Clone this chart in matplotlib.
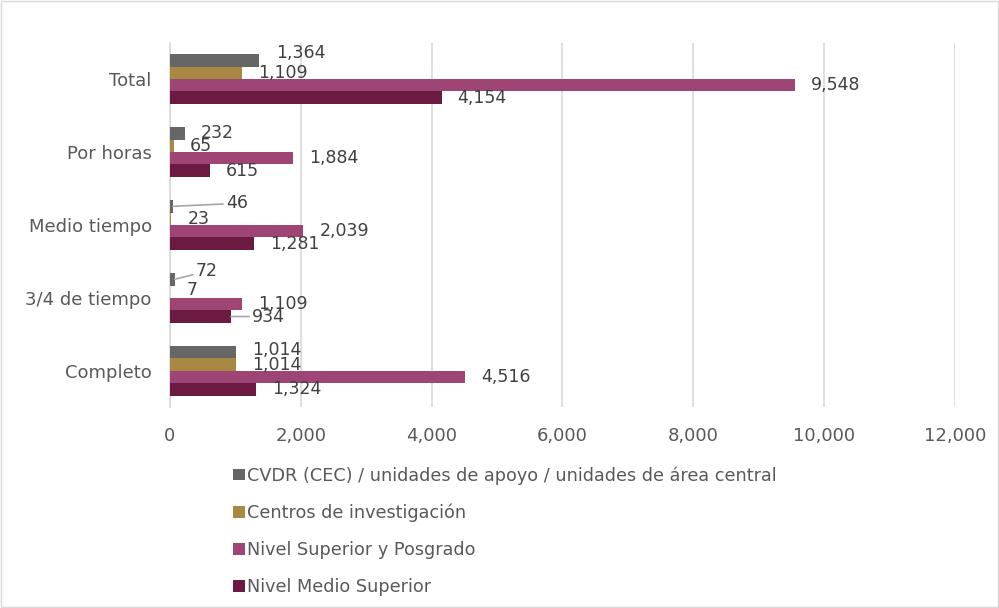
import numpy as np
import matplotlib.pyplot as plt
from matplotlib.patches import Rectangle

plt.rcParams['font.family'] = ['DejaVu Sans']

# data (bottom to top as drawn)
categories = ["Completo", "3/4 de tiempo", "Medio tiempo", "Por horas", "Total"]
series_names = ["CVDR (CEC) / unidades de apoyo / unidades de área central",
                "Centros de investigación",
                "Nivel Superior y Posgrado",
                "Nivel Medio Superior"]
cvdr = [1014, 72, 46, 232, 1364]
centros = [1014, 7, 23, 65, 1109]
superior = [4516, 1109, 2039, 1884, 9548]
medio_sup = [1324, 934, 1281, 615, 4154]
xticks = [0, 2000, 4000, 6000, 8000, 10000, 12000]

colors = ["#666666", "#A98843", "#9E4576", "#6B1A42"]
values = [cvdr, centros, superior, medio_sup]

# label nudges in pixels (dx from bar end, dy up), default (16, 0)
nudge = {(0, 2): (53, 3), (0, 1): (21, 8), (1, 1): (16, 2),
         (0, 0): (16, 2), (0, 4): (17, 7), (3, 1): (21, 0)}
leaders = [(0, 2), (0, 1), (3, 1)]

fig = plt.figure(figsize=(9.99, 6.08), dpi=100)
ax = fig.add_axes([0.170, 0.330, 0.786, 0.600])

y = np.arange(len(categories))
h = 0.17
for j, (vals, col) in enumerate(zip(values, colors)):
    pos = y + (1.5 - j) * h
    ax.barh(pos, vals, height=h, color=col, label=series_names[j], zorder=3)
    for i, v in enumerate(vals):
        dx, dy = nudge.get((j, i), (16, 0))
        arrow = None
        if (j, i) in leaders:
            arrow = dict(arrowstyle="-", color="#a6a6a6", lw=1.2,
                         shrinkA=0, shrinkB=0)
        ax.annotate(f"{v:,}", xy=(v, pos[i]),
                    xytext=(dx * 0.72, dy * 0.72), textcoords="offset points",
                    ha="left", va="center", fontsize=12.5, color="#404040",
                    arrowprops=arrow, zorder=4)

ax.set_xlim(0, 12000)
ax.set_ylim(-0.5, 4.5)
ax.set_xticks(xticks)
ax.set_xticklabels([f"{t:,}" for t in xticks])
ax.set_yticks(y)
ax.set_yticklabels(categories)
ax.tick_params(axis="both", length=0, labelsize=13, labelcolor="#595959")
ax.tick_params(axis="x", pad=14)
ax.tick_params(axis="y", pad=13)
ax.xaxis.grid(True, color="#d9d9d9", lw=1.2, zorder=0)
for s in ["top", "right", "bottom"]:
    ax.spines[s].set_visible(False)
ax.spines["left"].set_color("#d9d9d9")
ax.spines["left"].set_linewidth(1.2)

ax.legend(loc="upper left", bbox_to_anchor=(0.230, 0.239), bbox_transform=fig.transFigure,
          frameon=False, fontsize=12.7, labelcolor="#595959", handlelength=0.65,
          handleheight=0.65, handletextpad=0.15, labelspacing=1.07, borderaxespad=0,
          borderpad=0.2)

fig.patches.append(Rectangle((0.001, 0.002), 0.998, 0.996, transform=fig.transFigure,
                             fill=False, ec="#d9d9d9", lw=1))

fig.savefig("out.png", dpi=100)
